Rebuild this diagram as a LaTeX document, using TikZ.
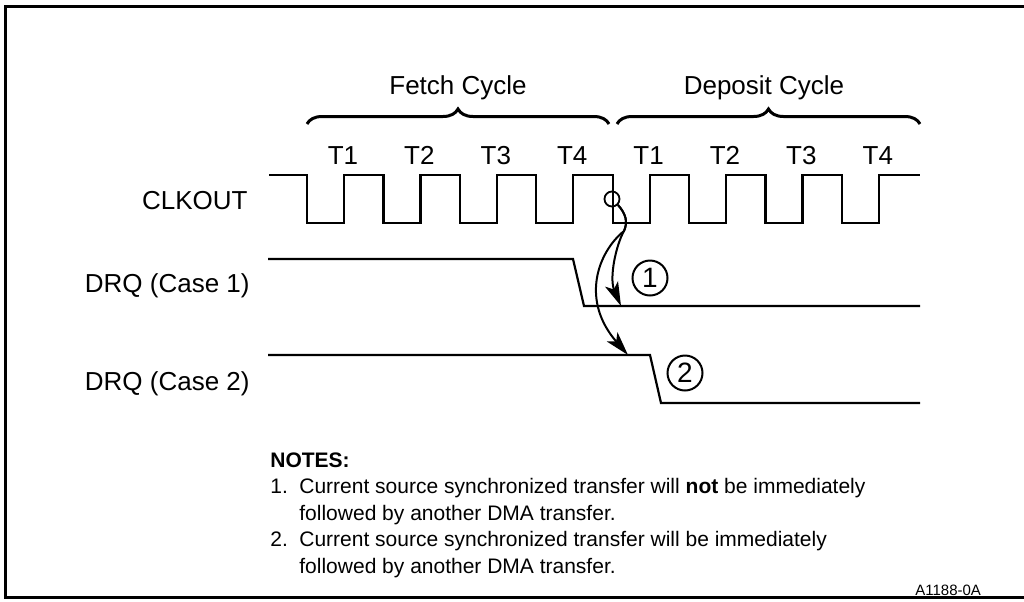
\documentclass[tikz,border=0pt]{standalone}
\usepackage{fontspec}
\setmainfont{Liberation Sans}
\usetikzlibrary{arrows.meta, decorations.pathreplacing}

\begin{document}
\begin{tikzpicture}[x=0.5pt, y=-0.5pt,
  wave/.style={line width=1.1pt},
  sig/.style={font=\fontsize{13}{15}\selectfont, inner sep=0pt},
  note/.style={font=\fontsize{10.5}{12}\selectfont, inner sep=0pt, anchor=base west},
  cyc/.style={decorate, decoration={brace, amplitude=7.5pt}, line width=1.5pt},
  flow/.style={line width=1pt, -{Stealth[length=12pt, width=7pt, inset=3pt]}},
  num/.style={draw, circle, line width=1pt, minimum size=17.5pt, inner sep=0pt, font=\fontsize{14}{16}\selectfont}]

  \useasboundingbox (0,0) rectangle (1024,601);
  % frame
  \draw[line width=1.6pt] (1030,6.5) -- (5.5,6.5) -- (5.5,597.5) -- (1030,597.5);

  % cycles
  \draw[cyc] (307,124) -- (609,124);
  \draw[cyc] (617,124) -- (920,124);
  \node[sig, anchor=base] (fetch) at (458,94) {Fetch Cycle};
  \node[sig, anchor=base] (deposit) at (764,94) {Deposit Cycle};

  % clock
  \draw[wave] (269,175) \foreach \k in {0,...,7} { -- ({307+76.4*\k},175) -- ++(0,48) -- ++(37,0) -- ++(0,-48) } -- (920,175);
  \foreach \k/\t in {0/1,1/2,2/3,3/4,4/1,5/2,6/3,7/4}
    \node[sig, anchor=base] (t\k) at ({343+76.4*\k},164) {T\t};
  \node[sig, anchor=base east] (clk) at (248,209) {CLKOUT};

  % DRQ lines
  \draw[wave] (268,259) -- (573,259) -- (584,306) -- (920,306);
  \draw[wave] (268,355) -- (650,355) -- (661,403) -- (920,403);
  \node[sig, anchor=base east] (case1) at (250,292.7) {DRQ (Case 1)};
  \node[sig, anchor=base east] (case2) at (250,390) {DRQ (Case 2)};
  \coordinate (q1) at (621,306);
  \coordinate (q2) at (628,355);

  % edge marker and arrows
  \node[draw, circle, line width=0.9pt, minimum size=7.5pt, inner sep=0pt] (edge) at (612,199) {};
  \coordinate (split) at (624,231);
  \draw[flow] (edge.south east) .. controls (626,214) and (628,222) .. (split) .. controls (616,245) and (609,278) .. (q1);
  \draw[flow] (edge.south east) .. controls (626,214) and (628,222) .. (split) .. controls (598,252) and (580,300) .. (q2);
  \node[num] (c1) at (650,278) {1};
  \node[num] (c2) at (685,373) {2};

  % notes
  \node[note, font=\fontsize{10.5}{12}\selectfont\bfseries] (notes) at (270,467) {NOTES:};
  \node[note] (note1) at (270,493) {1.};
  \node[note] (note1a) at (299,493) {Current source synchronized transfer will \textbf{not} be immediately};
  \node[note] (note1b) at (299,520) {followed by another DMA transfer.};
  \node[note] (note2) at (270,546.5) {2.};
  \node[note] (note2a) at (299,546.5) {Current source synchronized transfer will be immediately};
  \node[note] (note2b) at (299,573) {followed by another DMA transfer.};
  \node[note, font=\fontsize{7.5}{9}\selectfont] (fig) at (915,595) {A1188-0A};
\end{tikzpicture}
\end{document}
